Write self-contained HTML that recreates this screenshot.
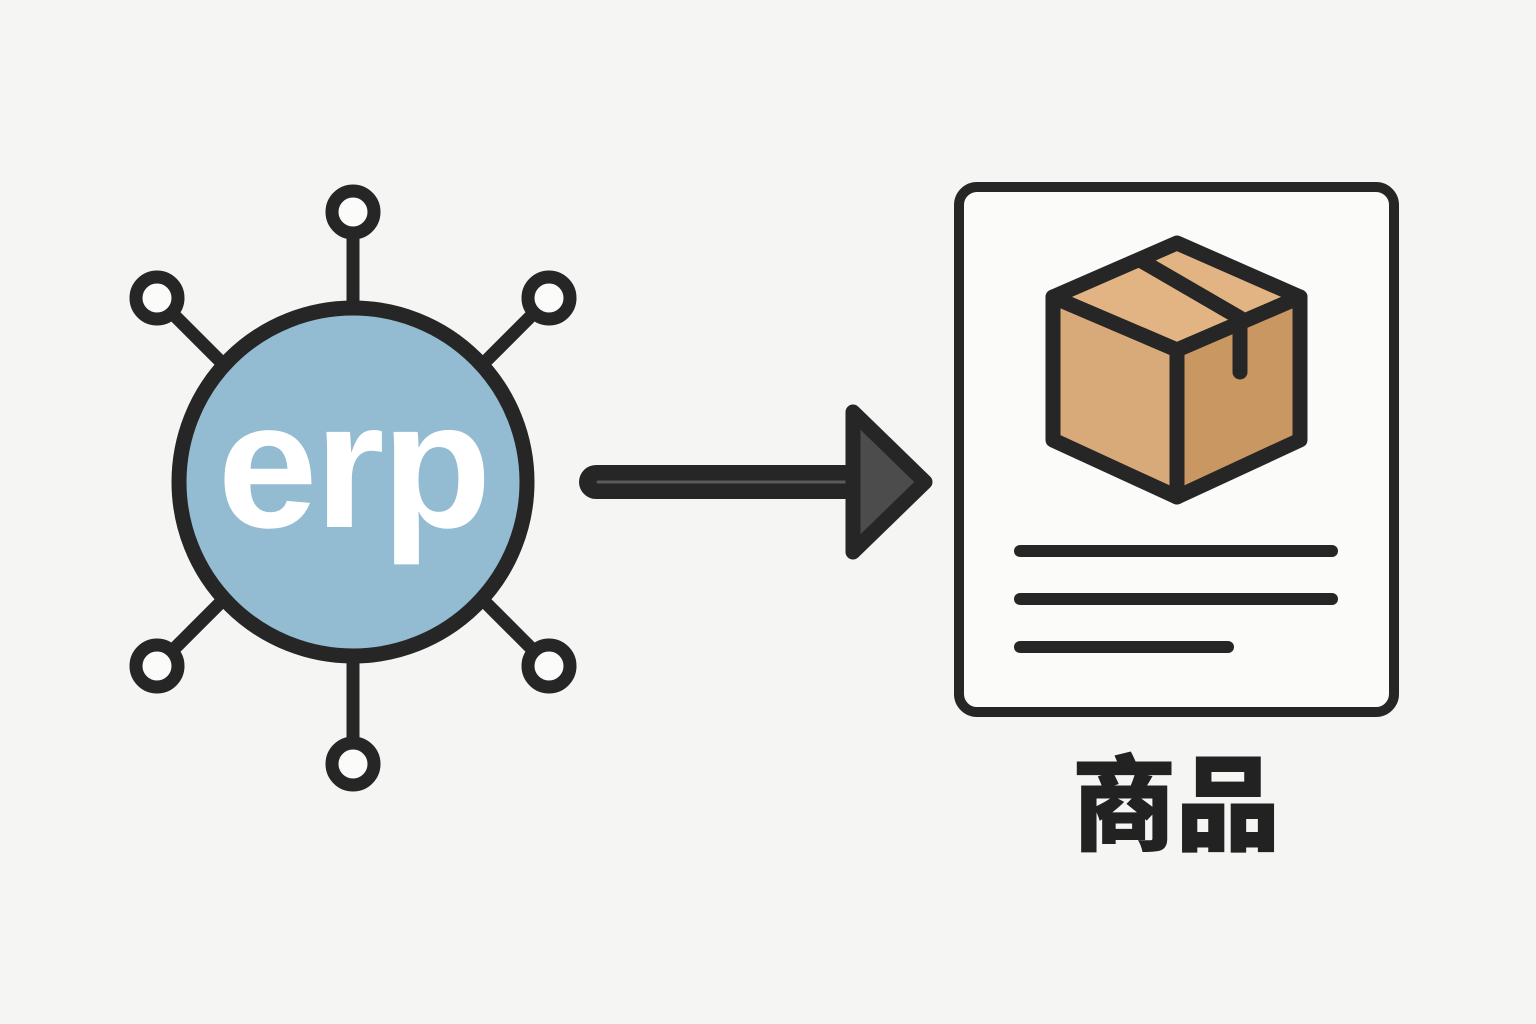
<!DOCTYPE html>
<html><head><meta charset="utf-8"><style>
html,body{margin:0;padding:0;background:#f5f5f3;}
svg{display:block;}
</style></head><body>
<svg width="1536" height="1024" viewBox="0 0 1536 1024" xmlns="http://www.w3.org/2000/svg">
<rect width="1536" height="1024" fill="#f5f5f3"/>
<g stroke="#262626" stroke-width="13" fill="none" stroke-linecap="round">
<line x1="353" y1="234" x2="353" y2="302"/>
<line x1="353" y1="662" x2="353" y2="742"/>
<line x1="173" y1="314" x2="226" y2="367"/>
<line x1="533" y1="314" x2="480" y2="367"/>
<line x1="173" y1="650" x2="226" y2="597"/>
<line x1="533" y1="650" x2="480" y2="597"/>
</g>
<g stroke="#262626" stroke-width="13" fill="#fbfbfa">
<circle cx="353" cy="212" r="21"/>
<circle cx="353" cy="764" r="21"/>
<circle cx="157" cy="298" r="21"/>
<circle cx="549" cy="298" r="21"/>
<circle cx="157" cy="666" r="21"/>
<circle cx="549" cy="666" r="21"/>
</g>
<circle cx="353" cy="482" r="174" fill="#93bbd1" stroke="#262626" stroke-width="15"/>
<text x="353" y="527" text-anchor="middle" font-family="Liberation Sans, sans-serif" font-weight="bold" font-size="180" fill="#fff" letter-spacing="-3">erp</text>
<line x1="596" y1="482" x2="860" y2="482" stroke="#262626" stroke-width="34" stroke-linecap="round"/>
<line x1="598" y1="482" x2="858" y2="482" stroke="#5a5a5a" stroke-width="3" stroke-linecap="round"/>
<polygon points="853,412 925,482 853,552" fill="#4c4c4c" stroke="#262626" stroke-width="15" stroke-linejoin="round"/>
<rect x="959" y="187" width="435" height="525" rx="18" fill="#fbfbfa" stroke="#262626" stroke-width="10"/>
<g stroke="#262626" stroke-width="15" stroke-linejoin="round" stroke-linecap="round">
<polygon points="1177,243 1053,297 1177,350 1300,297" fill="#e2b483"/>
<polygon points="1053,297 1177,350 1177,497 1053,440" fill="#d9aa79"/>
<polygon points="1300,297 1177,350 1177,497 1300,440" fill="#c99762"/>
<polyline points="1140,260 1240,318 1240,372" fill="none"/>
</g>
<g stroke="#262626" stroke-width="12" stroke-linecap="round">
<line x1="1020" y1="551" x2="1332" y2="551"/>
<line x1="1020" y1="599" x2="1332" y2="599"/>
<line x1="1020" y1="647" x2="1228" y2="647"/>
</g>
<text x="1176" y="842" text-anchor="middle" font-family="Liberation Sans, Noto Sans CJK SC, sans-serif" font-weight="900" font-size="104" fill="#222" stroke="#222" stroke-width="1">商品</text>
</svg>
</body></html>
